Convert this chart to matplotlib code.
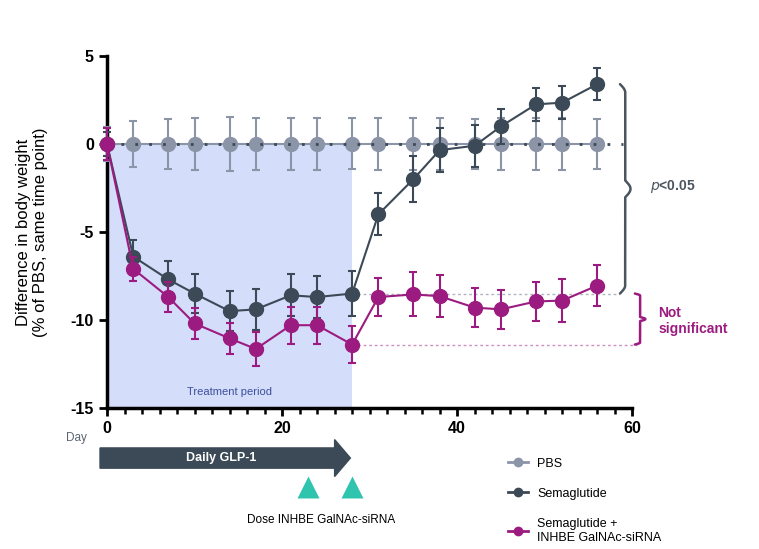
import numpy as np
import matplotlib.pyplot as plt
from matplotlib.patches import FancyArrow, Rectangle
from matplotlib.lines import Line2D

plt.rcParams["font.family"] = ["Liberation Sans", "DejaVu Sans"]
plt.rcParams["axes.unicode_minus"] = False

days = [0, 3, 7, 10, 14, 17, 21, 24, 28, 31, 35, 38, 42, 45, 49, 52, 56]

pbs = [0] * 17
pbs_err = [0.95, 1.3, 1.4, 1.5, 1.55, 1.5, 1.5, 1.5, 1.45, 1.5, 1.5, 1.5, 1.4, 1.5, 1.5, 1.5, 1.4]

sema = [0, -6.4, -7.7, -8.5, -9.5, -9.4, -8.6, -8.7, -8.5, -4.0, -2.0, -0.35, -0.1, 1.0, 2.25, 2.35, 3.4]
sema_err = [0.7, 0.95, 1.05, 1.1, 1.15, 1.15, 1.2, 1.2, 1.3, 1.2, 1.3, 1.25, 1.2, 1.0, 0.95, 0.95, 0.9]

combo = [0, -7.1, -8.7, -10.2, -11.05, -11.65, -10.3, -10.3, -11.4, -8.7, -8.55, -8.65, -9.3, -9.4, -8.95, -8.9, -8.05]
combo_err = [0.9, 0.7, 0.85, 0.9, 0.9, 0.95, 1.05, 1.05, 1.05, 1.1, 1.25, 1.2, 1.1, 1.1, 1.1, 1.2, 1.15]

labels = ["PBS", "Semaglutide", "Semaglutide +\nINHBE GalNAc-siRNA"]
dose_days = [23, 28]

c_pbs = "#8c94a8"
c_sema = "#3b4a56"
c_combo = "#9c1b80"
c_fill = "#d4ddfa"

fig = plt.figure(figsize=(7.59, 5.49), dpi=100)
ax = fig.add_axes([0.141, 0.257, 0.692, 0.641])
ax.set_xlim(0, 60)
ax.set_ylim(-15, 5)

ax.add_patch(Rectangle((0, -15), 28, 15, color=c_fill, lw=0, zorder=0))
ax.text(14, -14.1, "Treatment period", ha="center", va="center", fontsize=8, color="#3d4f9c")

# reference lines from day 28
ax.plot([28, 58.5], [sema[8], sema[8]], ls=(0, (2, 2)), color="#b0b4bc", lw=1, zorder=1, clip_on=False)
ax.plot([28, 60.5], [combo[8], combo[8]], ls=(0, (2, 2)), color="#d08fc0", lw=1, zorder=1, clip_on=False)

ms = 10
kw = dict(marker="o", ms=ms, capsize=3, elinewidth=1.5, capthick=1.5, clip_on=False)
ax.errorbar(days, pbs, yerr=pbs_err, color=c_pbs, lw=1.5, zorder=3, **kw)
ax.plot([0, 59], [0, 0], ls=(0, (1, 4)), color="#3b4a56", lw=2, zorder=3.5, clip_on=False)
ax.errorbar(days, sema, yerr=sema_err, color=c_sema, lw=1.5, zorder=4, **kw)
ax.errorbar(days, combo, yerr=combo_err, color=c_combo, lw=1.5, zorder=5, **kw)


def brace(x, y0, y1, color, w=1.2):
    # curly brace opening to the left, tip to the right
    t = np.linspace(0, 1, 200)
    ym = (y0 + y1) / 2
    xs, ys = [], []
    for start, order in ((y0, t), (y1, t[::-1])):
        for tt in order:
            y = start + (ym - start) * tt
            if tt < 0.08:
                s = tt / 0.08
                xx = x - w * 0.5 * (1 - np.sin(s * np.pi / 2))
            elif tt > 0.92:
                s = (tt - 0.92) / 0.08
                xx = x + w * 0.5 * np.sin(s * np.pi / 2)
            else:
                xx = x
            xs.append(xx)
            ys.append(y)
    ax.plot(xs, ys, color=color, lw=1.8, clip_on=False, solid_capstyle="round")


brace(59.2, 3.4, -8.5, "#4a5560")
ax.text(62, -2.4, r"$\it{p}$<0.05", fontsize=10, color="#4a5560", va="center", fontweight="bold")
brace(60.9, -8.5, -11.4, c_combo)
ax.text(63, -10.05, "Not\nsignificant", fontsize=10, color=c_combo, va="center", fontweight="bold")

ax.spines["top"].set_visible(False)
ax.spines["right"].set_visible(False)
ax.spines["left"].set_linewidth(2.5)
ax.spines["bottom"].set_linewidth(2.5)
ax.set_xticks([0, 20, 40, 60])
ax.set_xticks(np.arange(0, 61, 2), minor=True)
ax.set_yticks([-15, -10, -5, 0, 5])
ax.tick_params(axis="both", which="major", length=6, width=2, labelsize=11.5)
ax.tick_params(axis="x", which="minor", length=4, width=1.8)
for lab in ax.get_xticklabels() + ax.get_yticklabels():
    lab.set_fontweight("bold")
ax.set_ylabel("Difference in body weight\n(% of PBS, same time point)", fontsize=12)
ax.yaxis.set_label_coords(-0.112, 0.5)
ax.text(-3.5, -16.7, "Day", fontsize=8.5, color="#5a6470", ha="center", va="center", clip_on=False)

# treatment schematic below the axis
arr = FancyArrow(-0.8, -17.85, 26.8, 0, width=1.15, head_width=2.1, head_length=1.8,
                 length_includes_head=False, color=c_sema, clip_on=False)
ax.add_patch(arr)
ax.text(13, -17.85, "Daily GLP-1", color="white", fontsize=9, fontweight="bold", ha="center", va="center")
ax.scatter(dose_days, [-19.5] * len(dose_days), marker="^", s=250, color="#2ec4ae", clip_on=False, lw=0)
ax.text(24.5, -21.35, "Dose INHBE GalNAc-siRNA", fontsize=8.5, ha="center", va="center")

handles = [Line2D([], [], color=c, marker="o", ms=6, lw=2) for c in (c_pbs, c_sema, c_combo)]
fig.legend(handles, labels, loc="upper left", bbox_to_anchor=(0.655, 0.187), frameon=False,
           fontsize=9, handlelength=1.6, labelspacing=1.45, handletextpad=0.7)

fig.savefig("out.png", dpi=100)
